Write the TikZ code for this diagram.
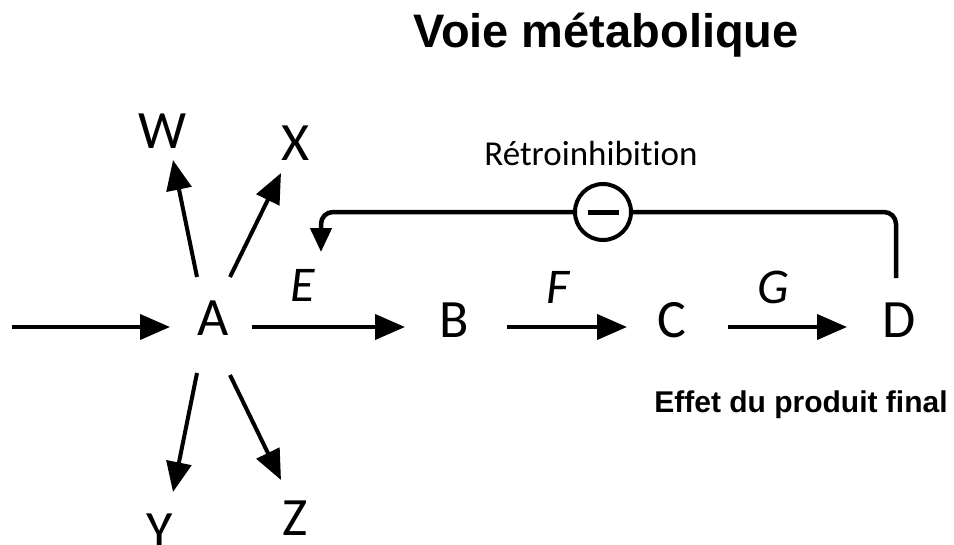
\documentclass[tikz,border=0pt]{standalone}
\usepackage{fontspec}
\setmainfont{Carlito}[Ligatures={NoCommon,NoRequired,NoContextual}]
\newfontfamily\lsans{Liberation Sans}
\usetikzlibrary{arrows.meta}
\begin{document}
\begin{tikzpicture}[x=1pt,y=-1pt,
  letter/.style={anchor=base,inner sep=0pt,font=\fontsize{54}{60}\selectfont},
  enz/.style={anchor=base,inner sep=0pt,font=\fontsize{50}{56}\selectfont\itshape},
  arr/.style={line width=4pt,-{Triangle[length=30pt,width=25pt]}},
  fbline/.style={line width=4.5pt,rounded corners=12pt},
  fb/.style={fbline,-{Triangle[length=24pt,width=21pt]}},
  inhib/.style={circle,draw,line width=4pt,fill=white,minimum size=56pt,inner sep=0pt}]
\fill[white] (0,0) rectangle (954,544);
\useasboundingbox (0,0) rectangle (954,544);
% title
\node[anchor=base,inner sep=0pt,font=\fontsize{47}{52}\selectfont\lsans\bfseries] (title) at (606,47) {Voie métabolique};
% metabolites
\node[letter] (A) at (213,335) {A};
\node[letter] (B) at (454,337) {B};
\node[letter] (C) at (672,337) {C};
\node[letter] (D) at (899,337) {D};
\node[letter] (W) at (163,148) {W};
\node[letter] (X) at (296,160) {X};
\node[letter] (Y) at (160,548) {Y};
\node[letter] (Z) at (295,535) {Z};
% enzymes
\node[enz] (E) at (303,301) {E};
\node[enz] (F) at (558,303) {F};
\node[enz] (G) at (773,303) {G};
% labels
\node[anchor=base,inner sep=0pt,font=\fontsize{35}{40}\selectfont] (retro) at (591,165) {Rétroinhibition};
\node[anchor=base,inner sep=0pt,font=\fontsize{30}{34}\selectfont\lsans\bfseries] (effet) at (801,412) {Effet du produit final};
% input
\coordinate (in) at (12,327);
\draw[arr] (in) -- ([xshift=-43pt,yshift=8pt]A.base);
% main chain
\draw[arr] ([xshift=39pt,yshift=8pt]A.base) -- ([xshift=-49pt,yshift=10pt]B.base);
\draw[arr] ([xshift=53pt,yshift=10pt]B.base) -- ([xshift=-45pt,yshift=10pt]C.base);
\draw[arr] ([xshift=56pt,yshift=10pt]C.base) -- ([xshift=-52pt,yshift=10pt]D.base);
% side branches
\draw[arr] ([xshift=-16pt,yshift=58pt]A.base) -- ([xshift=10pt,yshift=-12pt]W.base);
\draw[arr] ([xshift=17pt,yshift=58pt]A.base) -- ([xshift=-15pt,yshift=-13pt]X.base);
\draw[arr] ([xshift=-16pt,yshift=-38pt]A.base) -- ([xshift=13pt,yshift=56pt]Y.base);
\draw[arr] ([xshift=17pt,yshift=-40pt]A.base) -- ([xshift=-14pt,yshift=55pt]Z.base);
% feedback inhibition
\node[inhib] (minus) at (603,212) {\rule{31pt}{5pt}};
\draw[fbline] ([xshift=-3pt,yshift=59pt]D.base) |- (minus.east);
\draw[fb] (minus.west) -| ([xshift=18pt,yshift=49pt]E.base);
\end{tikzpicture}
\end{document}
